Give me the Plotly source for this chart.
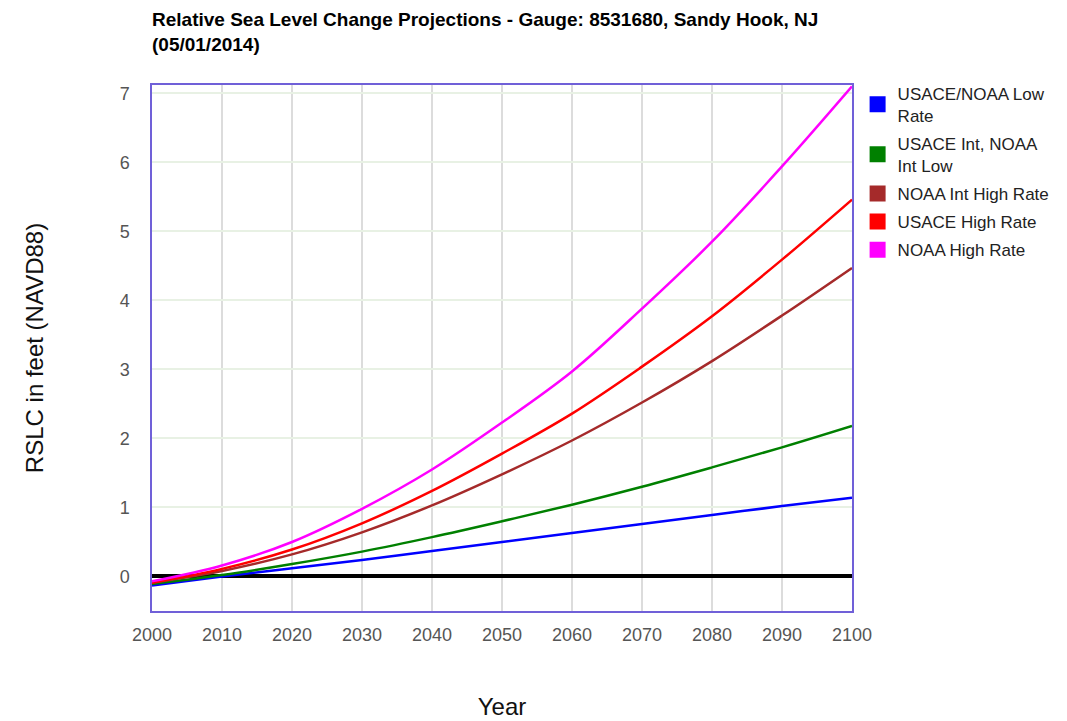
import plotly.graph_objects as go

years = [2000, 2010, 2020, 2030, 2040, 2050, 2060, 2070, 2080, 2090, 2100]

low_rate = [-0.13, 0.00, 0.12, 0.24, 0.37, 0.50, 0.63, 0.76, 0.89, 1.02, 1.14]
int_low = [-0.11, 0.02, 0.18, 0.36, 0.57, 0.80, 1.04, 1.30, 1.58, 1.87, 2.18]
int_high = [-0.09, 0.08, 0.32, 0.64, 1.03, 1.48, 1.97, 2.52, 3.12, 3.78, 4.47]
usace_high = [-0.09, 0.11, 0.39, 0.77, 1.24, 1.78, 2.36, 3.04, 3.77, 4.59, 5.46]
noaa_high = [-0.07, 0.16, 0.50, 0.98, 1.55, 2.23, 2.97, 3.88, 4.85, 5.94, 7.10]

names = ["USACE/NOAA Low<br>Rate", "USACE Int, NOAA<br>Int Low", "NOAA Int High Rate",
         "USACE High Rate", "NOAA High Rate"]
series = [low_rate, int_low, int_high, usace_high, noaa_high]
colors = ["#0000ff", "#008000", "#a52a2a", "#ff0000", "#ff00ff"]

fig = go.Figure()

# curves
for vals, col in zip(series, colors):
    fig.add_trace(go.Scatter(x=years, y=vals, mode="lines", line=dict(color=col, width=2.5, shape="spline"),
                             showlegend=False, hoverinfo="skip"))

# square legend swatches
for i, (name, col) in enumerate(zip(names, colors)):
    fig.add_trace(go.Scatter(x=[None], y=[None], mode="markers", name=name, legendgroup=str(i),
                             marker=dict(symbol="square", size=16, color=col)))

# page body adds 8px margin, so the figure margins are pulled in by that much
fig.update_layout(
    width=1067, height=721,
    margin=dict(l=144, r=223, t=77, b=118),
    paper_bgcolor="white", plot_bgcolor="white",
    font=dict(family="Liberation Sans, Arial", color="#222"),
    title=dict(text="<b>Relative Sea Level Change Projections - Gauge: 8531680, Sandy Hook, NJ<br>(05/01/2014)</b>",
               x=144/1067, xanchor="left", y=0.975, yanchor="top",
               font=dict(size=19, color="#000")),
    legend=dict(x=1.008, xanchor="left", y=1.018, yanchor="top", font=dict(size=17, color="#222"),
                itemwidth=30, tracegroupgap=3, bgcolor="rgba(0,0,0,0)"),
    showlegend=True,
)

fig.update_xaxes(range=[2000, 2100], dtick=10, tick0=2000,
                 showgrid=True, gridcolor="#dcdcdc", gridwidth=1.5,
                 showline=True, linecolor="#7060d8", linewidth=1.5, mirror=True,
                 ticks="outside", ticklen=7, tickcolor="rgba(0,0,0,0)",
                 tickfont=dict(size=18, color="#555"),
                 title=dict(text="Year", font=dict(size=24, color="#111"), standoff=54),
                 zeroline=False)

fig.update_yaxes(range=[-0.5, 7.12], dtick=1, tick0=0,
                 showgrid=True, gridcolor="#e8f1e4", gridwidth=2,
                 showline=True, linecolor="#7060d8", linewidth=1.5, mirror=True,
                 ticks="outside", ticklen=17, tickcolor="rgba(0,0,0,0)",
                 tickfont=dict(size=18, color="#555"),
                 title=dict(text="RSLC in feet (NAVD88)", font=dict(size=24, color="#111"), standoff=69),
                 zeroline=True, zerolinecolor="#000", zerolinewidth=3.5)

fig.write_html("out.html")
